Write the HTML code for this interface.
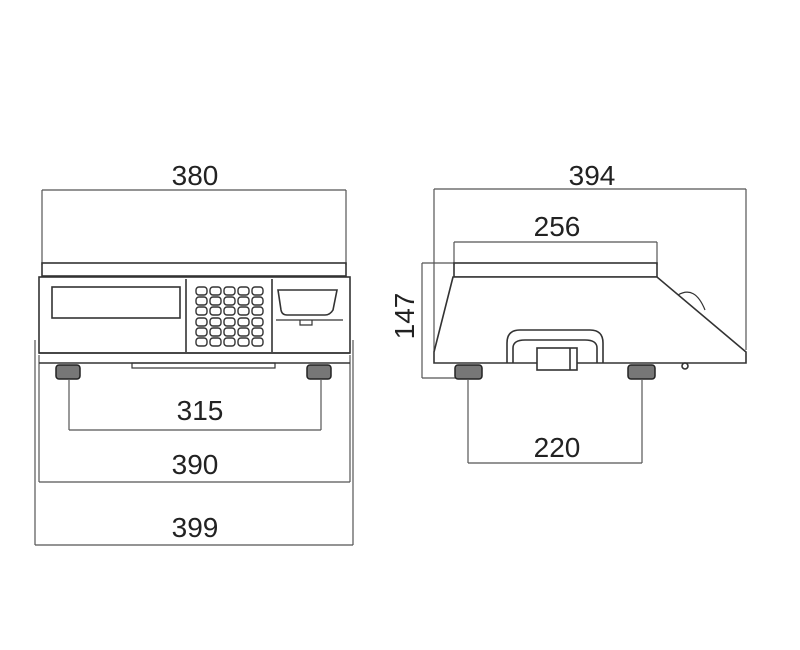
<!DOCTYPE html>
<html><head><meta charset="utf-8"><style>body{margin:0;background:#fff}svg{display:block}text{font-family:"Liberation Sans",sans-serif;font-size:28px;fill:#222;text-anchor:middle}</style></head>
<body>
<svg width="800" height="650" viewBox="0 0 800 650" xmlns="http://www.w3.org/2000/svg">
<g stroke="#555" stroke-width="1.2" fill="none">
<!-- left dims -->
<line x1="42" y1="190" x2="346" y2="190"/><line x1="42" y1="190" x2="42" y2="265"/><line x1="346" y1="190" x2="346" y2="265"/>
<line x1="69" y1="430" x2="321" y2="430"/><line x1="69" y1="380" x2="69" y2="430"/><line x1="321" y1="380" x2="321" y2="430"/>
<line x1="39" y1="482" x2="350" y2="482"/><line x1="39" y1="355" x2="39" y2="482"/><line x1="350" y1="355" x2="350" y2="482"/>
<line x1="35" y1="545" x2="353" y2="545"/><line x1="35" y1="340" x2="35" y2="545"/><line x1="353" y1="340" x2="353" y2="545"/>
<!-- right dims -->
<line x1="434" y1="189" x2="746" y2="189"/><line x1="434" y1="189" x2="434" y2="352"/><line x1="746" y1="189" x2="746" y2="350"/>
<line x1="454" y1="242" x2="657" y2="242"/><line x1="454" y1="242" x2="454" y2="265"/><line x1="657" y1="242" x2="657" y2="265"/>
<line x1="422" y1="263" x2="422" y2="378"/><line x1="422" y1="263" x2="454" y2="263"/><line x1="422" y1="378" x2="456" y2="378"/>
<line x1="468" y1="463" x2="642" y2="463"/><line x1="468" y1="380" x2="468" y2="463"/><line x1="642" y1="380" x2="642" y2="463"/>
</g>
<g stroke="#333" stroke-width="1.6" fill="none">
<!-- left view -->
<rect x="42" y="263" width="304" height="13"/>
<rect x="39" y="277" width="311" height="76"/>
<line x1="39" y1="353" x2="350" y2="353"/><line x1="39" y1="363" x2="350" y2="363"/>
<rect x="52" y="287" width="128" height="31"/>
<line x1="186" y1="279" x2="186" y2="352"/>
<line x1="272" y1="279" x2="272" y2="352"/>
<rect x="132" y="363" width="143" height="5" stroke-width="1.2"/>
<path d="M278 290 H337 L333 310 Q330 315 325 315 H287 Q282 315 281 310 Z"/>
<path d="M276 320 H343 M300 320 v5 h12 v-5" stroke-width="1.2"/>
</g>
<g fill="#fff" stroke="#333" stroke-width="1.4">
<g id="k">
<rect x="196" y="287" width="11" height="8" rx="3"/><rect x="210" y="287" width="11" height="8" rx="3"/><rect x="224" y="287" width="11" height="8" rx="3"/><rect x="238" y="287" width="11" height="8" rx="3"/><rect x="252" y="287" width="11" height="8" rx="3"/>
</g>
<use href="#k" y="10"/><use href="#k" y="20"/><use href="#k" y="31"/><use href="#k" y="41"/><use href="#k" y="51"/>
</g>
<g fill="#777" stroke="#222" stroke-width="1.5">
<rect x="56" y="365" width="24" height="14" rx="3"/><rect x="307" y="365" width="24" height="14" rx="3"/>
<rect x="455" y="365" width="27" height="14" rx="3"/><rect x="628" y="365" width="27" height="14" rx="3"/>
</g>
<g stroke="#333" stroke-width="1.6" fill="none">
<!-- right view -->
<rect x="454" y="263" width="203" height="14"/>
<path d="M453 277 L434 352 V363 H746 V352 L657 277 Z" fill="#fff"/>
<path d="M507 363 V343 Q507 330 520 330 H590 Q603 330 603 343 V363" />
<path d="M513 363 V348 Q513 340 525 340 H585 Q597 340 597 348 V363"/>
<rect x="537" y="348" width="40" height="22" fill="#fff"/>
<line x1="570" y1="348" x2="570" y2="370"/>
<path d="M678 295 Q695 285 705 310" stroke-width="1.2"/>
<circle cx="685" cy="366" r="3"/>
</g>
<text x="195" y="185">380</text>
<text x="200" y="420">315</text>
<text x="195" y="474">390</text>
<text x="195" y="537">399</text>
<text x="592" y="185">394</text>
<text x="557" y="236">256</text>
<text x="557" y="457">220</text>
<text transform="translate(414 316) rotate(-90)">147</text>
</svg>
</body></html>
